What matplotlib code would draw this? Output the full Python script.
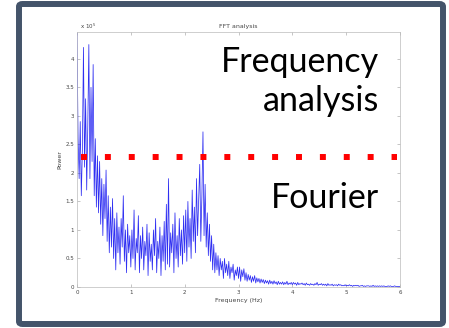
import numpy as np
import matplotlib
matplotlib.use("Agg")
import matplotlib.pyplot as plt
from matplotlib.patches import FancyBboxPatch

# FFT power spectrum (step 0.02 Hz, units of 10^5)
power = [
    4.45, 2.6, 1.9, 2.9, 1.6, 2.4, 4.2, 2.1, 3.3, 1.7,
    2.8, 4.25, 1.9, 3.5, 2.2, 3.9, 1.6, 2.6, 1.4, 2.3,
    1.3, 2.2, 1.1, 1.9, 0.9, 1.8, 1.2, 2.05, 0.8, 1.6,
    0.6, 1.4, 0.7, 1.55, 0.5, 1.2, 0.3, 1.3, 0.6, 1.05,
    0.4, 1.2, 0.7, 1.6, 0.45, 1.0, 0.25, 1.1, 0.6, 0.9,
    0.35, 1.0, 0.5, 1.35, 0.3, 0.85, 0.6, 1.25, 0.25, 0.9,
    0.5, 1.05, 0.3, 0.8, 0.55, 1.1, 0.2, 0.95, 0.45, 0.75,
    0.3, 1.0, 0.55, 1.2, 0.25, 0.8, 0.5, 1.05, 0.2, 0.9,
    0.45, 1.15, 0.3, 1.45, 0.4, 1.9, 0.35, 0.95, 0.6, 1.1,
    0.25, 1.3, 0.5, 0.9, 0.35, 1.2, 0.55, 1.0, 0.4, 1.25,
    0.6, 1.35, 0.45, 1.5, 0.7, 1.2, 0.5, 1.7, 0.8, 1.4,
    0.6, 1.9, 0.9, 1.5, 2.15, 0.8, 1.6, 2.72, 0.9, 1.8,
    0.7, 1.3, 0.55, 1.1, 0.45, 0.9, 0.3, 0.75, 0.25, 0.6,
    0.3, 0.55, 0.2, 0.5, 0.3, 0.45, 0.15, 0.5, 0.25, 0.4,
    0.2, 0.45, 0.15, 0.35, 0.25, 0.4, 0.12, 0.3, 0.2, 0.35,
    0.15, 0.35, 0.1, 0.3, 0.18, 0.32, 0.12, 0.25, 0.1, 0.22,
    0.12, 0.2, 0.08, 0.18, 0.1, 0.2, 0.07, 0.16, 0.09, 0.15,
    0.07, 0.14, 0.08, 0.13, 0.06, 0.12, 0.07, 0.11, 0.05, 0.12,
    0.06, 0.1, 0.05, 0.11, 0.06, 0.09, 0.04, 0.1, 0.05, 0.08,
    0.05, 0.09, 0.04, 0.08, 0.05, 0.1, 0.04, 0.07, 0.05, 0.08,
    0.04, 0.08, 0.05, 0.07, 0.03, 0.08, 0.04, 0.06, 0.05, 0.07,
    0.04, 0.06, 0.03, 0.07, 0.04, 0.05, 0.03, 0.06, 0.04, 0.05,
    0.03, 0.06, 0.04, 0.08, 0.03, 0.05, 0.04, 0.06, 0.03, 0.05,
    0.03, 0.05, 0.02, 0.06, 0.03, 0.04, 0.03, 0.05, 0.02, 0.04,
    0.03, 0.04, 0.02, 0.05, 0.03, 0.04, 0.02, 0.03, 0.02, 0.04,
    0.02, 0.03, 0.02, 0.04, 0.02, 0.03, 0.01, 0.03, 0.02, 0.03,
    0.02, 0.03, 0.01, 0.02, 0.02, 0.03, 0.01, 0.02, 0.01, 0.02,
    0.02, 0.02, 0.01, 0.02, 0.01, 0.03, 0.01, 0.02, 0.01, 0.02,
    0.01, 0.02, 0.01, 0.02, 0.01, 0.02, 0.01, 0.01, 0.01, 0.02,
    0.01, 0.02, 0.01, 0.01, 0.01, 0.02, 0.01, 0.01, 0.01, 0.01,
    0.01,
]
freq_step = 0.02
freq = np.arange(len(power)) * freq_step

x_ticks = [0, 1, 2, 3, 4, 5, 6]
y_ticks = [0, 0.5, 1, 1.5, 2, 2.5, 3, 3.5, 4]
y_tick_labels = ["0", "0.5", "1", "1.5", "2", "2.5", "3", "3.5", "4"]

threshold = 2.28
threshold_start = 0.08
threshold_end = 5.95

fig = plt.figure(figsize=(4.49, 3.28), dpi=100)

# frame around the slide
frame = FancyBboxPatch((19 / 449, 4 / 328), 424 / 449, 320 / 328,
                       boxstyle="round,pad=0,rounding_size=0.008",
                       transform=fig.transFigure, facecolor="none",
                       edgecolor="#44546a", linewidth=4.3, zorder=10)
fig.patches.append(frame)

ax = fig.add_axes([77 / 449, 1 - 287 / 328, 323 / 449, 255 / 328])
ax.plot(freq, power, color="#0a0af0", linewidth=0.55, alpha=0.85)

ax.set_xlim(0, 6)
ax.set_ylim(0, 4.47)
ax.set_xticks(x_ticks)
ax.set_xticklabels([str(t) for t in x_ticks])
ax.set_yticks(y_ticks)
ax.set_yticklabels(y_tick_labels)
ax.tick_params(direction="in", length=2.5, width=0.4, labelsize=4,
               colors="#999999", labelcolor="#444444", pad=2,
               top=True, right=True)
for s in ax.spines.values():
    s.set_color("#bbbbbb")
    s.set_linewidth(0.5)

ax.set_title("FFT analysis", fontsize=4.5, color="#444444", pad=3)
ax.set_xlabel("Frequency (Hz)", fontsize=4.5, color="#444444", labelpad=2)
ax.set_ylabel("Power", fontsize=4.5, color="#444444", labelpad=2)
ax.text(0.01, 1.005, r"x 10$^{5}$", transform=ax.transAxes, fontsize=4,
        color="#444444", va="bottom", ha="left")

# red dotted marker line
ax.plot([threshold_start, threshold_end], [threshold, threshold],
        color="#ff0000", linewidth=4.3, linestyle=(0, (1, 3)),
        dash_capstyle="butt", zorder=5, clip_on=False)

big = dict(fontsize=24.5, family=["Lato", "DejaVu Sans"], color="black",
           ha="right", transform=fig.transFigure, zorder=6)
fig.text(379 / 449, 1 - 72 / 328, "Frequency", **big)
fig.text(379 / 449, 1 - 111 / 328, "analysis", **big)
fig.text(379 / 449, 1 - 208 / 328, "Fourier", **big)

fig.savefig("out.png", dpi=100)
